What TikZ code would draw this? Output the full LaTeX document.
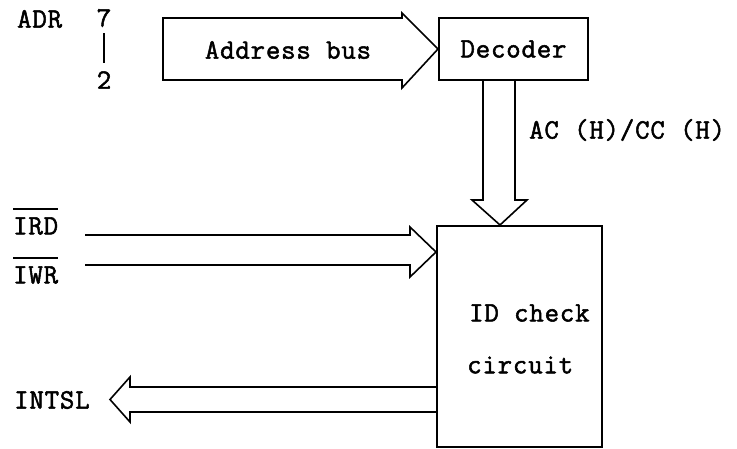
\documentclass[tikz,border=0pt]{standalone}
\usepackage{fontspec}
\newfontfamily\cour{Latin Modern Mono}[FakeBold=1.8,LetterSpace=3]
\begin{document}
\begin{tikzpicture}[x=1pt,y=-1pt,
  lbl/.style={font=\cour\bfseries\fontsize{28}{30}\selectfont, inner sep=0pt, text=black},
  blk/.style={draw, line width=2pt, inner sep=0pt},
  busline/.style={line width=1.6pt, line join=miter}]
\useasboundingbox (0,0) rectangle (737,449);
% blocks
\node[blk, minimum width=149pt, minimum height=62pt] (dec) at (513.5,49) {};
\node[lbl] (dectxt) at (dec.center) {Decoder};
\node[blk, minimum width=165pt, minimum height=221pt] (idc) at (519.5,336.5) {};
\node[lbl, anchor=west] (idc1) at (469,313) {ID check};
\node[lbl, anchor=west] (idc2) at (467,365) {circuit};
% labels
\node[lbl, anchor=west] (adr) at (17,19) {ADR};
\node[lbl] (b7) at (104,18) {7};
\node[lbl] (b2) at (104,80) {2};
\draw[line width=2.5pt] (b7.south) ++(0,6) coordinate (bt) -- ++(0,30) coordinate (bb);
\node[lbl] (abus) at (288,50) {Address bus};
\node[lbl, anchor=west] (acc) at (529,130) {AC (H)/CC (H)};
\node[lbl, anchor=west] (ird) at (13,226) {IRD};
\node[lbl, anchor=west] (iwr) at (13,275) {IWR};
\draw[line width=1.6pt] ([yshift=8pt]ird.north west) -- ([yshift=8pt]ird.north east);
\draw[line width=1.6pt] ([yshift=8pt]iwr.north west) -- ([yshift=8pt]iwr.north east);
\node[lbl, anchor=west] (intsl) at (14,400) {INTSL};
% coordinates
\coordinate (busL) at (163,18);
\coordinate (inL) at (85,235);
% address bus arrow
\draw[busline] (busL) -- (402,18) -- (402,13) -- (dec.west) -- (402,88) -- (402,80) -- (163,80) -- cycle;
% decoder -> ID check
\draw[busline] (483,0 |- dec.south) -- (483,200) -- (472,200) -- (500,0 |- idc.north) -- (527,200) -- (515,200) -- (515,0 |- dec.south);
% IRD/IWR arrow
\draw[busline] (inL) -- (410,235) -- (410,227) -- (idc.west |- 0,252) -- (410,277) -- (410,265) -- (85,265);
% INTSL arrow
\draw[busline] (idc.west |- 0,387) -- (130,387) -- (130,377) -- (110,399.5) -- (130,422) -- (130,412) -- (idc.west |- 0,412);
\end{tikzpicture}
\end{document}
